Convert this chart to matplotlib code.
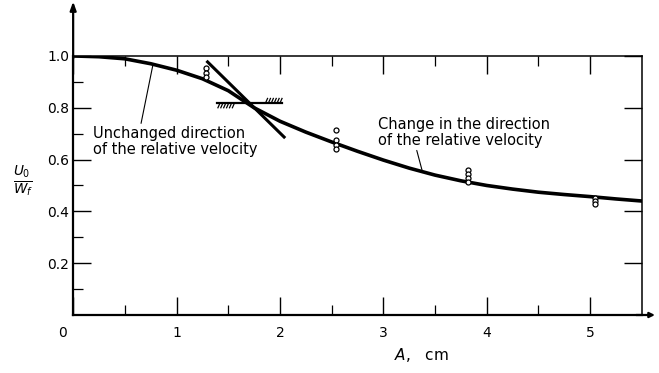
import numpy as np
import matplotlib
matplotlib.use("Agg")
import matplotlib.pyplot as plt
from matplotlib.transforms import ScaledTranslation

# ---- data ----
curve_x = [0, 0.25, 0.5, 0.75, 1.0, 1.25, 1.5, 1.75, 2.0, 2.25, 2.5, 2.75,
           3.0, 3.25, 3.5, 3.75, 4.0, 4.25, 4.5, 4.75, 5.0, 5.25, 5.5]
curve_y = [1.0, 0.997, 0.989, 0.970, 0.945, 0.912, 0.866, 0.800, 0.748, 0.706,
           0.668, 0.632, 0.598, 0.567, 0.540, 0.518, 0.500, 0.486, 0.474,
           0.465, 0.457, 0.448, 0.440]

pts_x = [1.28, 1.28, 1.28,
         2.54, 2.54, 2.54, 2.54,
         3.82, 3.82, 3.82, 3.82,
         5.05, 5.05, 5.05]
pts_y = [0.952, 0.936, 0.920,
         0.715, 0.675, 0.657, 0.640,
         0.558, 0.543, 0.529, 0.515,
         0.452, 0.440, 0.428]

tangent_x = [1.30, 2.04]
tangent_y = [0.977, 0.687]

wall_x = [1.39, 2.02]
wall_y = [0.818, 0.818]

xtick_labels = ["0", "1", "2", "3", "4", "5"]
ytick_labels = ["0.2", "0.4", "0.6", "0.8", "1.0"]

label_left = "Unchanged direction\nof the relative velocity"
label_right = "Change in the direction\nof the relative velocity"

# ---- figure ----
fig = plt.figure(figsize=(6.59, 3.73), dpi=100)
ax = fig.add_axes([0.111, 0.1555, 0.863, 0.6945])

ax.plot(curve_x, curve_y, color="black", lw=2.6, solid_capstyle="round",
        solid_joinstyle="round")
ax.plot(pts_x, pts_y, linestyle="none", marker="o", ms=3.6, mfc="white",
        mec="black", mew=0.9)
ax.plot(tangent_x, tangent_y, color="black", lw=2.2)
ax.plot(wall_x, wall_y, color="black", lw=1.6)

# hatching on the wall line: below on the left part, above on the right part
for hx in np.arange(1.40, 1.56, 0.028):
    ax.plot([hx, hx + 0.02], [wall_y[0] - 0.018, wall_y[0]], color="black", lw=0.9)
for hx in np.arange(1.86, 2.02, 0.028):
    ax.plot([hx, hx + 0.02], [wall_y[0], wall_y[0] + 0.018], color="black", lw=0.9)

# annotations
ax.annotate(label_left, xy=(0.77, 0.963), xytext=(0.19, 0.67),
            fontsize=10.5, ha="left", va="center", linespacing=1.05,
            arrowprops=dict(arrowstyle="-", lw=0.8, color="black",
                            shrinkA=0, shrinkB=0, relpos=(0.29, 1.0)))
ax.annotate(label_right, xy=(3.38, 0.550), xytext=(2.95, 0.705),
            fontsize=10.5, ha="left", va="center", linespacing=1.05,
            arrowprops=dict(arrowstyle="-", lw=0.8, color="black",
                            shrinkA=0, shrinkB=0, relpos=(0.22, 0.0)))

ax.set_xlim(0, 5.5)
ax.set_ylim(0, 1.0)

# spines
for s in ["left", "bottom"]:
    ax.spines[s].set_linewidth(1.6)
for s in ["top", "right"]:
    ax.spines[s].set_linewidth(1.1)

# ticks
ax.set_xticks(np.arange(0, 6, 1))
ax.set_xticklabels(xtick_labels)
ax.set_xticks(np.arange(0.5, 5.5, 1), minor=True)
ax.set_yticks(np.arange(0.2, 1.01, 0.2))
ax.set_yticklabels(ytick_labels)
ax.set_yticks(np.arange(0.1, 1.0, 0.2), minor=True)
ax.tick_params(axis="both", which="major", direction="in", length=13, width=1.0,
               labelsize=10, top=True, right=True, pad=8)
ax.tick_params(axis="both", which="minor", direction="in", length=7, width=0.9,
               top=True, right=True)
ax.tick_params(axis="y", which="major", pad=3)
ax.tick_params(axis="y", which="minor", right=False)

# shift the "0" label to the left as in the reference
lbl0 = ax.get_xticklabels()[0]
lbl0.set_transform(lbl0.get_transform() + ScaledTranslation(-0.11, 0, fig.dpi_scale_trans))

# axis arrows
ax.annotate("", xy=(0, 1.21), xytext=(0, 0.99), xycoords="axes fraction",
            arrowprops=dict(arrowstyle="-|>,head_length=0.5,head_width=0.18",
                            lw=1.6, color="black", shrinkA=0, shrinkB=0))
ax.annotate("", xy=(1.023, 0), xytext=(0.99, 0), xycoords="axes fraction",
            arrowprops=dict(arrowstyle="-|>,head_length=0.3,head_width=0.15",
                            lw=1.6, color="black", shrinkA=0, shrinkB=0))

# axis labels
fig.text(0.035, 0.515, r"$\frac{U_0}{W_f}$", fontsize=14, ha="center", va="center")
fig.text(0.64, 0.048, r"$A$,   cm", fontsize=11, ha="center", va="center")

fig.savefig("out.png", dpi=100)
